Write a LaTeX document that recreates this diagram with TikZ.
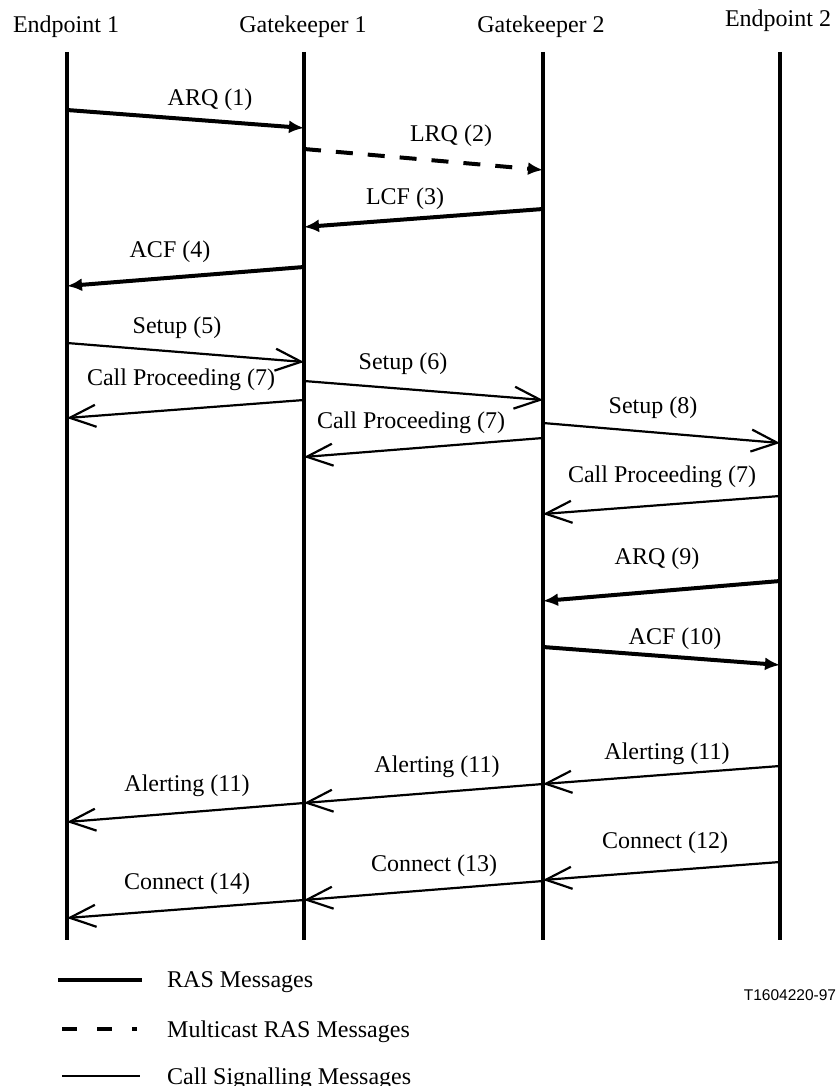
\documentclass[tikz,border=0pt]{standalone}
\usepackage{fontspec}
\setmainfont{Liberation Serif}
\newfontfamily\sansfnt{Liberation Sans}
\usetikzlibrary{arrows.meta}
\begin{document}
\begin{tikzpicture}[x=1pt,y=-1pt,
  life/.style={line width=4pt},
  ras/.style={line width=4pt,-{Latex[length=15pt,width=13pt]}},
  mras/.style={ras,dash pattern=on 17pt off 15pt},
  sig/.style={line width=2.2pt,-{Straight Barb[length=26pt,width=22pt]}},
  txt/.style={font=\fontsize{24}{28}\selectfont,inner sep=0pt},
  lbl/.style={txt,text height=16.5pt,text depth=4.3pt,anchor=center},
  hdr/.style={txt,anchor=base},
  leg/.style={txt,anchor=base west}]
\useasboundingbox (0,0) rectangle (838,1086);
% headers
\node[hdr] (h1) at (66,33) {Endpoint 1};
\node[hdr] (h2) at (303,33) {Gatekeeper 1};
\node[hdr] (h3) at (541,33) {Gatekeeper 2};
\node[hdr] (h4) at (778,27) {Endpoint 2};
% lifelines
\coordinate (t1) at (67,52);  \coordinate (b1) at (67,940);
\coordinate (t2) at (304,52); \coordinate (b2) at (304,940);
\coordinate (t3) at (543,52); \coordinate (b3) at (543,940);
\coordinate (t4) at (780,52); \coordinate (b4) at (780,940);
\draw[life] (t1) -- (b1);
\draw[life] (t2) -- (b2);
\draw[life] (t3) -- (b3);
\draw[life] (t4) -- (b4);
% message end points
\coordinate (m1s) at (67,110);  \coordinate (m1e) at (304,128);
\coordinate (m2s) at (304,149); \coordinate (m2e) at (543,170);
\coordinate (m3s) at (543,209); \coordinate (m3e) at (304,227);
\coordinate (m4s) at (304,267); \coordinate (m4e) at (67,286);
\coordinate (m5s) at (67,343);  \coordinate (m5e) at (304,362);
\coordinate (m6s) at (304,381); \coordinate (m6e) at (543,400);
\coordinate (m7s) at (304,400); \coordinate (m7e) at (67,418);
\coordinate (m8s) at (543,438); \coordinate (m8e) at (304,457);
\coordinate (m9s) at (543,423); \coordinate (m9e) at (780,443);
\coordinate (m10s) at (780,496); \coordinate (m10e) at (543,514);
\coordinate (m11s) at (780,581); \coordinate (m11e) at (543,601);
\coordinate (m12s) at (543,647); \coordinate (m12e) at (780,665);
\coordinate (m13s) at (780,766); \coordinate (m13e) at (543,784);
\coordinate (m14s) at (543,784); \coordinate (m14e) at (304,803);
\coordinate (m15s) at (304,803); \coordinate (m15e) at (67,822);
\coordinate (m16s) at (780,862); \coordinate (m16e) at (543,880);
\coordinate (m17s) at (543,881); \coordinate (m17e) at (304,900);
\coordinate (m18s) at (304,900); \coordinate (m18e) at (67,918);
% messages
\draw[ras]  (m1s) -- (m1e);
\draw[mras] (m2s) -- (m2e);
\draw[ras]  (m3s) -- (m3e);
\draw[ras]  (m4s) -- (m4e);
\draw[sig]  (m5s) -- (m5e);
\draw[sig]  (m6s) -- (m6e);
\draw[sig]  (m7s) -- (m7e);
\draw[sig]  (m8s) -- (m8e);
\draw[sig]  (m9s) -- (m9e);
\draw[sig]  (m10s) -- (m10e);
\draw[ras]  (m11s) -- (m11e);
\draw[ras]  (m12s) -- (m12e);
\draw[sig]  (m13s) -- (m13e);
\draw[sig]  (m14s) -- (m14e);
\draw[sig]  (m15s) -- (m15e);
\draw[sig]  (m16s) -- (m16e);
\draw[sig]  (m17s) -- (m17e);
\draw[sig]  (m18s) -- (m18e);
% labels
\node[lbl] (l1) at (210,99) {ARQ (1)};
\node[lbl] (l2) at (451,135) {LRQ (2)};
\node[lbl] (l3) at (405,198) {LCF (3)};
\node[lbl] (l4) at (170,251) {ACF (4)};
\node[lbl] (l5) at (177,327) {Setup (5)};
\node[lbl] (l6) at (403,363) {Setup (6)};
\node[lbl] (l7) at (181,379) {Call Proceeding (7)};
\node[lbl] (l8) at (411,422) {Call Proceeding (7)};
\node[lbl] (l9) at (653,407) {Setup (8)};
\node[lbl] (l10) at (662,476) {Call Proceeding (7)};
\node[lbl] (l11) at (657,558) {ARQ (9)};
\node[lbl] (l12) at (675,638) {ACF (10)};
\node[lbl] (l13) at (667,753) {Alerting (11)};
\node[lbl] (l14) at (437,766) {Alerting (11)};
\node[lbl] (l15) at (187,785) {Alerting (11)};
\node[lbl] (l16) at (665,842) {Connect (12)};
\node[lbl] (l17) at (434,865) {Connect (13)};
\node[lbl] (l18) at (187,883) {Connect (14)};
% figure number
\node[anchor=base,inner sep=0pt,font=\sansfnt\fontsize{15.5}{18}\selectfont] (fig) at (790,1000) {T1604220-97};
% legend
\coordinate (r1a) at (58,980);  \coordinate (r1b) at (142,980);
\coordinate (r2a) at (62,1029); \coordinate (r2b) at (137,1029);
\coordinate (r3a) at (62,1076); \coordinate (r3b) at (140,1076);
\draw[line width=4pt] (r1a) -- (r1b);
\draw[line width=4.5pt,dash pattern=on 15pt off 20pt] (r2a) -- (r2b);
\draw[line width=2.2pt] (r3a) -- (r3b);
\node[leg] (k1) at (167,987) {RAS Messages};
\node[leg] (k2) at (167,1037) {Multicast RAS Messages};
\node[leg] (k3) at (167,1084) {Call Signalling Messages};
\end{tikzpicture}
\end{document}
